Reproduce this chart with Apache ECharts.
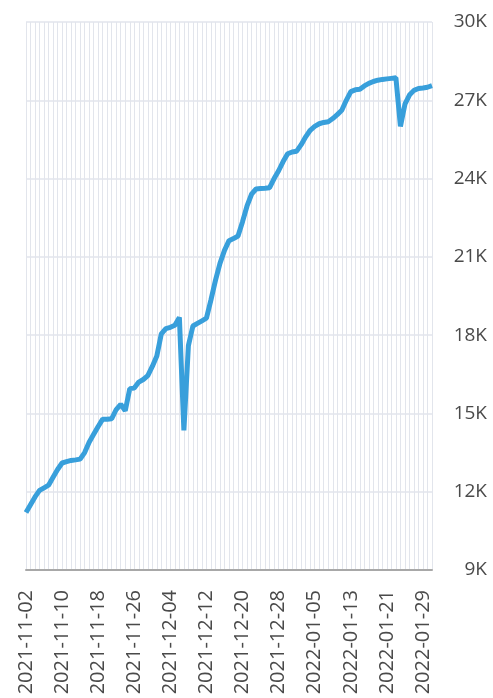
<!DOCTYPE html>
<html>
<head>
<meta charset="utf-8">
<script src="https://cdn.jsdelivr.net/npm/echarts@6/dist/echarts.min.js"></script>
<style>
html,body{margin:0;padding:0;background:#fff;}
#chart{width:493px;height:698px;}
</style>
</head>
<body>
<div id="chart"></div>
<script>
// Dates: 2021-11-02 .. 2022-01-31 (daily)
const startDate = '2021-11-02';
const dayCount = 91;

// Values (in thousands), one per day
const values = [
  11.2, 11.5, 11.8, 12.05, 12.15, 12.25, 12.55, 12.85, 13.1, 13.15,
  13.2, 13.22, 13.25, 13.5, 13.9, 14.2, 14.5, 14.78, 14.78, 14.8,
  15.15, 15.35, 15.1, 15.95, 15.97, 16.2, 16.3, 16.45, 16.8, 17.2,
  18.05, 18.25, 18.3, 18.38, 18.68, 14.35, 17.6, 18.35, 18.45, 18.55,
  18.65, 19.35, 20.1, 20.75, 21.25, 21.62, 21.7, 21.8, 22.35, 22.95,
  23.4, 23.6, 23.62, 23.63, 23.65, 24.0, 24.3, 24.65, 24.95, 25.02,
  25.05, 25.3, 25.6, 25.85, 26.0, 26.1, 26.15, 26.18, 26.3, 26.45,
  26.62, 27.0, 27.33, 27.4, 27.42, 27.55, 27.65, 27.72, 27.77, 27.8,
  27.82, 27.84, 27.86, 26.0, 26.85, 27.2, 27.38, 27.45, 27.47, 27.5,
  27.56
];

const yMin = 9000, yMax = 30000, yStep = 3000;

function buildDates(start, n) {
  const out = [];
  const d = new Date(start + 'T00:00:00Z');
  for (let i = 0; i < n; i++) {
    const c = new Date(d.getTime() + i * 86400000);
    out.push(c.toISOString().slice(0, 10));
  }
  return out;
}
const categories = buildDates(startDate, dayCount);
const seriesData = values.map(v => Math.round(v * 1000));

const chart = echarts.init(document.getElementById('chart'), null, {renderer: 'canvas'});
chart.setOption({
  animation: false,
  backgroundColor: '#ffffff',
  grid: {left: 26, right: 61, top: 22, bottom: 128, containLabel: false},
  xAxis: {
    type: 'category',
    data: categories,
    boundaryGap: false,
    axisLine: {show: true, lineStyle: {color: '#a8a8a8', width: 2}},
    axisTick: {show: false},
    axisLabel: {
      interval: 7,
      rotate: 90,
      margin: 20,
      fontFamily: 'Open Sans',
      fontSize: 20,
      color: '#4a4a4a'
    },
    splitLine: {show: true, interval: 0, lineStyle: {color: '#e2e5ec', width: 1}}
  },
  yAxis: {
    type: 'value',
    position: 'right',
    min: yMin,
    max: yMax,
    interval: yStep,
    axisLine: {show: false},
    axisTick: {show: false},
    axisLabel: {
      align: 'right',
      margin: 55,
      fontFamily: 'Open Sans',
      fontSize: 19,
      color: '#4a4a4a',
      formatter: v => (v / 1000) + 'K'
    },
    splitLine: {show: true, lineStyle: {color: '#e2e5ec', width: 1.5}}
  },
  series: [{
    type: 'line',
    data: seriesData,
    showSymbol: false,
    symbol: 'none',
    lineStyle: {color: '#389fdb', width: 5},
    itemStyle: {color: '#389fdb'}
  }]
});
</script>
</body>
</html>
